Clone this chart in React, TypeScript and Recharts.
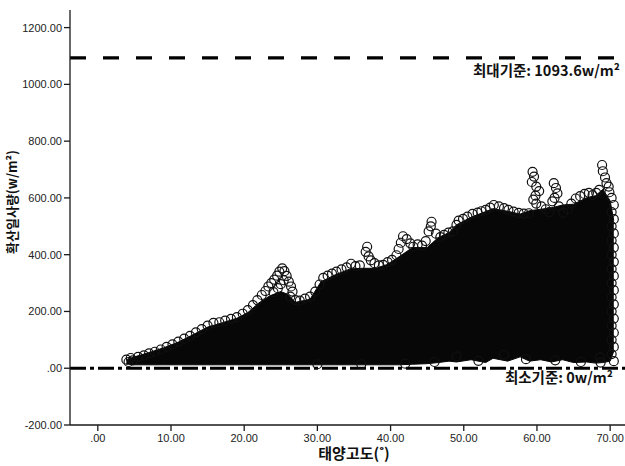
import React from 'react';
import { ComposedChart, Area, Scatter, XAxis, YAxis, ReferenceLine } from 'recharts';

// Axis ticks
const altitudeTicks = [0, 10, 20, 30, 40, 50, 60, 70];
const irradianceTicks = [-200, 0, 200, 400, 600, 800, 1000, 1200];

// Reference standards (w/m²)
const maxStandard = 1093.6;
const minStandard = 0;

// Dense core of the observations: lower / upper envelope per solar altitude
const bandAltitude = [3.9, 5, 7, 9, 11, 13, 15, 17, 19, 20.5, 22, 23.5, 25, 26, 27, 29, 30.5, 32.5, 34.5, 36, 38, 39.5, 41, 43, 45, 46.5, 48, 49, 51, 53, 54, 56, 57.7, 59, 60.5, 62, 63.5, 65, 66.8, 68, 69, 70.0, 70.5];
const bandLow = [15, 12, 12, 12, 12, 12, 12, 12, 12, 12, 12, 12, 12, 12, 12, 12, 12, 12, 12, 12, 12, 12, 12, 14, 16, 20, 25, 22, 30, 20, 35, 25, 40, 25, 30, 22, 30, 20, 22, 18, 20, 25, 60];
const bandHigh = [30, 40, 55, 72, 92, 118, 145, 160, 176, 196, 230, 255, 270, 260, 232, 243, 305, 330, 350, 352, 352, 365, 390, 425, 425, 460, 478, 505, 532, 552, 562, 553, 543, 555, 560, 565, 575, 578, 600, 608, 630, 590, 520];

// Individual observations along the edges of the cloud
const pointAltitude = [
  3.9, 4.2, 4.5, 4.8, 5.5, 6.3, 7.0, 7.8, 8.6, 9.4, 10.2, 11.0, 11.8, 12.6, 13.4, 14.2, 15.0, 15.8, 16.6, 17.4, 18.2, 19.0, 19.8, 20.5, 21.2, 21.8,
  22.4, 22.9, 23.3, 23.7, 24.1, 24.5, 24.8, 25.2, 25.5, 25.8, 25.4, 25.0, 26.1, 26.4, 26.6, 26.3, 24.6, 24.0,
  27.0, 27.6, 28.3, 29.0, 29.7, 30.3, 30.8, 31.4, 32.0, 32.6, 33.3, 34.0, 34.6, 35.2, 35.8,
  36.6, 36.8, 37.0, 37.3, 37.8, 38.4, 39.0, 39.6, 40.2,
  40.8, 41.1, 41.4, 41.7, 42.2, 42.7, 43.1, 43.7, 44.3, 44.8, 45.2, 45.5, 45.6, 46.2, 46.8, 47.3, 47.9, 48.5, 49.0, 49.3, 49.9, 50.5, 51.2, 51.9, 52.4, 53.0, 53.6, 54.1, 54.8, 55.5, 56.1, 56.8, 57.5, 58.2, 58.9,
  59.4, 59.6, 59.3, 59.9, 60.3, 59.8, 59.5, 59.9, 60.6, 61.2, 61.7,
  62.3, 62.6, 62.8, 62.4, 62.1, 63.0, 63.6, 64.2, 64.7, 65.3, 65.9, 66.5, 67.1, 67.6, 68.1, 68.5,
  68.9, 69.0, 69.3, 69.5, 69.8, 69.9,
  70.2, 70.5, 70.2, 70.5, 70.2, 70.5, 70.2, 70.5, 70.2, 70.5, 70.2, 70.5, 70.2, 70.5, 70.2, 70.5, 70.2, 70.5, 70.2, 70.5, 70.2, 70.5, 70.2, 70.5,
  68.7, 68.6, 66.0, 62.5, 58.5, 55.5, 52.0, 49.0, 46.0, 42.0, 36.0, 30.0,
];
const pointIrradiance = [
  30, 22, 36, 28, 40, 45, 52, 58, 66, 75, 84, 94, 104, 114, 126, 138, 150, 160, 162, 168, 174, 180, 192, 205, 222, 240,
  258, 272, 288, 300, 312, 326, 340, 352, 342, 325, 310, 296, 305, 288, 270, 252, 282, 268,
  240, 238, 245, 252, 270, 295, 318, 326, 333, 340, 348, 355, 368, 360, 362,
  410, 428, 394, 380, 370, 362, 364, 374, 382,
  398, 420, 442, 465, 455, 440, 428, 436, 432, 448, 482, 500, 516, 474, 462, 470, 478, 482, 505, 520, 526, 534, 544, 548, 553, 558, 566, 575, 570, 564, 558, 552, 547, 545, 546,
  692, 675, 656, 640, 624, 608, 594, 580, 570, 560, 550,
  652, 635, 616, 600, 588, 570, 548, 560, 580, 598, 606, 614, 618, 610, 618, 628,
  716, 694, 672, 652, 640, 620,
  600, 575, 550, 525, 500, 475, 450, 425, 400, 375, 350, 325, 300, 275, 250, 225, 200, 175, 150, 125, 100, 75, 50, 25,
  20, 38, 22, 28, 32, 48, 26, 42, 22, 16, 14, 14,
];

const bandData = bandAltitude.map((x, i) => ({ x, band: [bandLow[i], bandHigh[i]] }));
const pointData = pointAltitude.map((x, i) => ({ x, y: pointIrradiance[i] }));

const fmt = (v: number) => v.toFixed(2).replace(/^(-?)0\./, '$1.');

const KR = "'Noto Sans CJK KR', 'Noto Sans', sans-serif";
const NUM = "'Liberation Sans', Arial, sans-serif";

const HollowCircle = (p: any) => (
  <circle cx={p.cx} cy={p.cy} r={4.5} fill="none" stroke="#111" strokeWidth={1.2} />
);

const MaxLabel = (p: any) => {
  const vb = p.viewBox || {};
  return (
    <text x={vb.x + vb.width - 5} y={vb.y + 18} textAnchor="end" fontFamily={KR} fontWeight={700} fontSize={14.5} fill="#111">
      최대기준: 1093.6w/m²
    </text>
  );
};

const MinLabel = (p: any) => {
  const vb = p.viewBox || {};
  return (
    <text x={vb.x + vb.width - 12} y={vb.y + 15} textAnchor="end" fontFamily={KR} fontWeight={700} fontSize={14.5} fill="#111">
      최소기준: 0w/m²
    </text>
  );
};

const XTitle = () => (
  <text x={354} y={459} textAnchor="middle" fontFamily={KR} fontWeight={700} fontSize={15} fill="#111">
    태양고도(˚)
  </text>
);

const YTitle = () => (
  <text x={11} y={202} transform="rotate(-90 11 202)" textAnchor="middle" dominantBaseline="central" fontFamily={KR} fontWeight={700} fontSize={13} fill="#111">
    확산일사량(w/m²)
  </text>
);

export default function App() {
  return (
    <div style={{ position: 'absolute', left: 0, top: 0, width: 625, height: 466, background: '#fff' }}>
      <ComposedChart width={625} height={466} data={bandData} margin={{ top: 10, right: 0, bottom: 0, left: 0 }}>
        <XAxis
          dataKey="x"
          type="number"
          domain={[-3.8, 72.03]}
          allowDataOverflow
          ticks={altitudeTicks}
          tickFormatter={fmt}
          height={41}
          tickSize={6}
          tickMargin={3}
          stroke="#1a1a1a"
          strokeWidth={1.3}
          tick={{ fontSize: 11, fill: '#222', fontFamily: NUM }}
          label={XTitle}
        />
        <YAxis
          type="number"
          domain={[-200, 1262]}
          allowDataOverflow
          ticks={irradianceTicks}
          tickFormatter={fmt}
          width={70}
          tickSize={6}
          tickMargin={2}
          stroke="#1a1a1a"
          strokeWidth={1.3}
          tick={{ fontSize: 11, fill: '#222', fontFamily: NUM }}
          label={YTitle}
        />
        <Area
          dataKey="band"
          type="linear"
          fill="#070707"
          fillOpacity={1}
          stroke="#070707"
          strokeWidth={1}
          isAnimationActive={false}
          dot={false}
          activeDot={false}
        />
        <Scatter data={pointData} dataKey="y" shape={HollowCircle} isAnimationActive={false} />
        <ReferenceLine y={maxStandard} stroke="#000" strokeWidth={3.2} strokeDasharray="16 17" label={MaxLabel} />
        <ReferenceLine y={minStandard} stroke="#000" strokeWidth={3} strokeDasharray="16 4 4 4" label={MinLabel} />
      </ComposedChart>
    </div>
  );
}
